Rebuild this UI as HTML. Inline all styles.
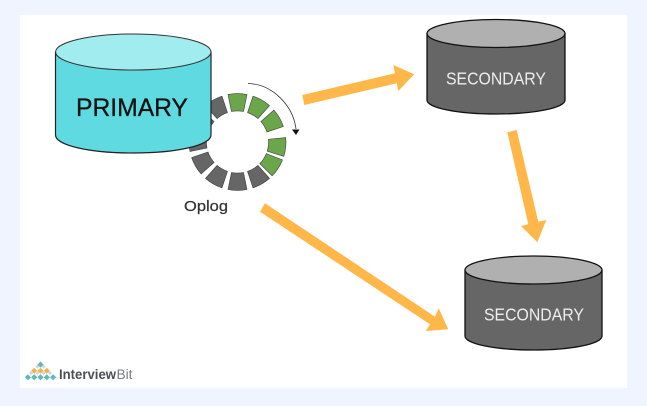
<!DOCTYPE html>
<html><head><meta charset="utf-8"><style>
html,body{margin:0;padding:0;background:#eff4fe}
svg{display:block}
text{font-family:"Liberation Sans",sans-serif}
</style></head><body>
<svg width="647" height="406" viewBox="0 0 647 406" xmlns="http://www.w3.org/2000/svg">
<rect width="647" height="406" fill="#eff4fe"/>
<rect x="20" y="15" width="607" height="373" fill="#fff"/>

<!-- Oplog ring -->
<g stroke="#3d3d3d" stroke-width=".6">
<g fill="#6ca64a">
<path id="s" d="M228 94.500A48 48 0 0 1 247 94.500L243.500 111.500A31.500 31.500 0 0 0 231.500 111.500Z"/>
<use href="#s" transform="rotate(30 237.500 142)"/>
<use href="#s" transform="rotate(60 237.500 142)"/>
<use href="#s" transform="rotate(96 237.500 142)"/>
<use href="#s" transform="rotate(123 237.500 142)"/>
</g>
<g fill="#666">
<use href="#s" transform="rotate(150 237.500 142)"/>
<use href="#s" transform="rotate(180 237.500 142)"/>
<use href="#s" transform="rotate(210 237.500 142)"/>
<use href="#s" transform="rotate(240 237.500 142)"/>
<use href="#s" transform="rotate(270 237.500 142)"/>
<use href="#s" transform="rotate(300 237.500 142)"/>
<use href="#s" transform="rotate(330 237.500 142)"/>
</g>
</g>
<path d="M248 83.500C272 84 293 105 296 129" fill="none" stroke="#333" stroke-width=".8"/>
<path d="M292 129.500L299.500 129.500L296 135Z" fill="#111"/>

<!-- Primary -->
<path d="M55.500 52V135C55.500 145 88 153 133 153S211 145 211 135V52Z" fill="#5edae0" stroke="#222" stroke-width="1.200"/>
<ellipse cx="133.300" cy="52" rx="77.700" ry="18" fill="#a0ecef" stroke="#333" stroke-width="1"/>
<text x="76" y="116" font-size="25" fill="#111" stroke="#111" stroke-width=".3" textLength="112" lengthAdjust="spacingAndGlyphs">PRIMARY</text>

<!-- Secondary 1 -->
<path d="M427 33.500V100C427 108 458 114 496 114S565 108 565 100V33.500Z" fill="#666" stroke="#111" stroke-width="1.300"/>
<ellipse cx="496" cy="33.500" rx="69" ry="14" fill="#b0b0b0" stroke="#111" stroke-width="1.300"/>
<text x="446" y="84.500" font-size="17.500" fill="#eee" textLength="100" lengthAdjust="spacingAndGlyphs">SECONDARY</text>

<!-- Secondary 2 -->
<path d="M465 270V336C465 344 496 350 533.500 350S602 344 602 336V270Z" fill="#666" stroke="#111" stroke-width="1.300"/>
<ellipse cx="533.500" cy="270" rx="68.500" ry="14" fill="#b0b0b0" stroke="#111" stroke-width="1.300"/>
<text x="484" y="320.500" font-size="17.500" fill="#eee" textLength="100" lengthAdjust="spacingAndGlyphs">SECONDARY</text>

<!-- Yellow arrows -->
<g fill="#ffb74a">
<path d="M302.300 95L395 73.300L393.300 65L414.300 74.300L398.300 91L396.700 83.300L304.300 105Z"/>
<path d="M507.300 132.300L516.700 130L538.300 221.700L546.300 220L537.300 242.300L521 226L528.300 224.300Z"/>
<path d="M265 203.300L435 316.700L438.700 308.300L448.300 329.300L425.700 331L430 324.300L260 211.700Z"/>
</g>

<text x="184" y="211" font-size="15" fill="#333" stroke="#333" stroke-width=".25" textLength="44" lengthAdjust="spacingAndGlyphs">Oplog</text>

<!-- Logo -->
<g fill="#5fb7c0">
<path id="d" d="M40.500 361.500l3.100 3.100-3.100 3.100-3.100-3.100Z"/>
<use href="#d" x="-12.600" y="12.700"/><use href="#d" x="-6.300" y="12.700"/><use href="#d" x="0" y="12.700"/><use href="#d" x="6.300" y="12.700"/><use href="#d" x="12.600" y="12.700"/>
</g>
<g fill="#f4b04f">
<path id="o" d="M34.200 367.800l3 3-3 3-3-3Z"/><use href="#o" x="6.300"/><use href="#o" x="12.600"/>
</g>
<g fill="#cfd6d8">
<path id="w" d="M37.300 364.700l2 2-2 2-2-2Z"/><use href="#w" x="6.300"/>
<use href="#w" x="-6.300" y="6.300"/><use href="#w" x="0" y="6.300"/><use href="#w" x="6.300" y="6.300"/><use href="#w" x="12.600" y="6.300"/>
</g>
<text x="59" y="379" font-size="13.500" font-weight="bold" fill="#4a4f55" textLength="57" lengthAdjust="spacingAndGlyphs">Interview</text>
<text x="116.500" y="379" font-size="13.500" fill="#777c82" textLength="16" lengthAdjust="spacingAndGlyphs">Bit</text>
</svg>
</body></html>
